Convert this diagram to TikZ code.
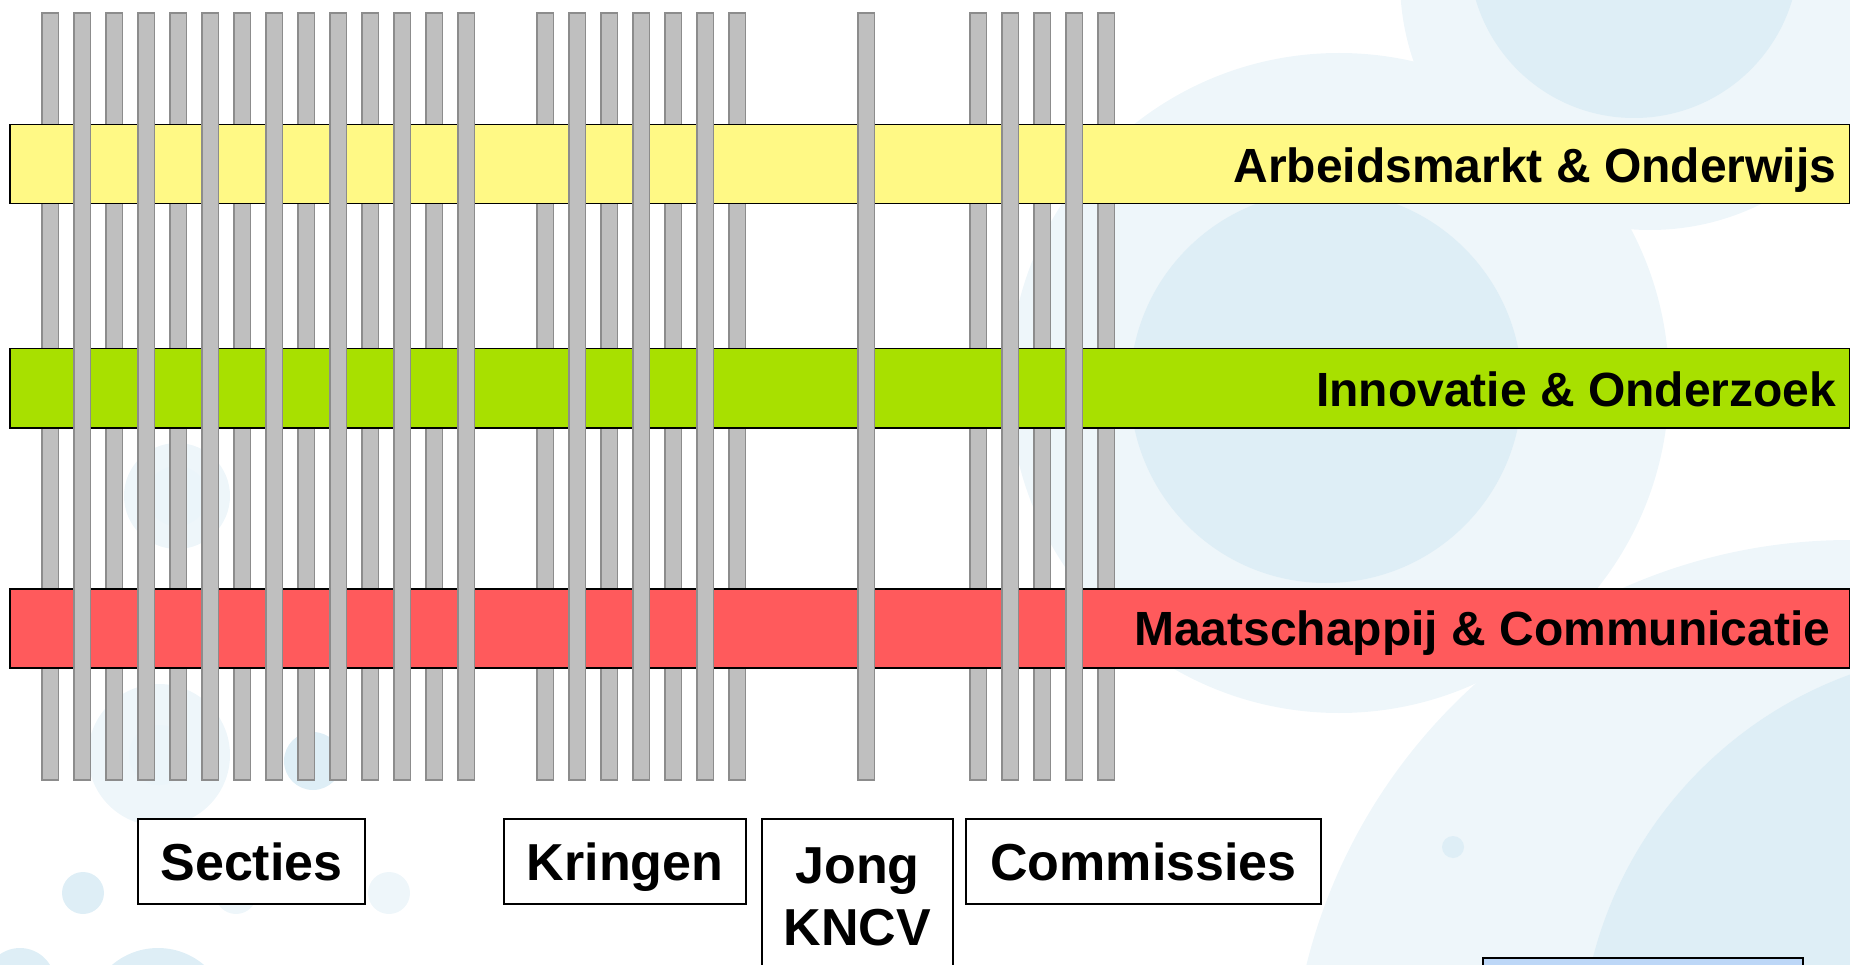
\documentclass[tikz,border=0pt]{standalone}
\usepackage{fontspec}
\setmainfont{Liberation Sans}
\usepackage{tikz}

\definecolor{barfill}{HTML}{BFBFBF}
\definecolor{barline}{HTML}{8C8C8C}
\definecolor{aoyellow}{HTML}{FFF985}
\definecolor{iogreen}{HTML}{A8E000}
\definecolor{mcred}{HTML}{FF5A5C}
\definecolor{bgdark}{HTML}{DEEEF6}
\definecolor{bglight}{HTML}{EEF6FA}
\definecolor{boxblue}{HTML}{BDD7F7}

\begin{document}
\begin{tikzpicture}[x=1pt,y=-1pt,
  bar/.style={fill=barfill,draw=barline,line width=1.5pt},
  band/.style={draw=black,line width=1.5pt,minimum width=1840pt,minimum height=79pt,
    anchor=north west,inner sep=0pt},
  bandlabel/.style={anchor=base east,inner sep=0pt,font=\fontsize{48}{50}\selectfont\bfseries},
  groupbox/.style={draw=black,fill=white,line width=1.8pt,inner sep=0pt,text depth=0pt,
    minimum height=85pt,font=\fontsize{52}{62}\selectfont\bfseries,align=center}]
\clip (0,0) rectangle (1850,965);

% background circles
\fill[bglight] (1650,-20) circle (250);
\fill[bgdark] (1634,-47) circle (165);
\fill[bglight] (1339,383) circle (330);
\fill[bgdark] (1326,387) circle (196);
\fill[bglight] (1850,1100) circle (560);
\fill[bgdark] (1990,1060) circle (410);
\fill[bglight] (177,496) circle (53);
\fill[bgdark!60] (177,496) circle (30);
\fill[bglight] (159,755) circle (71);
\fill[bgdark!60] (159,755) circle (30);
\fill[bgdark] (313,761) circle (29);
\fill[bgdark] (83,893) circle (21);
\fill[bglight] (236,893) circle (21);
\fill[bglight] (389,893) circle (21);
\fill[bgdark] (20,983) circle (35);
\fill[bgdark] (158,1019) circle (71);
\fill[bgdark] (1453,847) circle (11);

% bars behind the bands
\foreach \i in {0,2,...,12}
  \draw[bar] (50+32*\i-8.25,13) rectangle ++(16.5,767);
\foreach \i in {0,2,4,6}
  \draw[bar] (545+32*\i-8.25,13) rectangle ++(16.5,767);
\foreach \i in {0,2,4}
  \draw[bar] (978+32*\i-8.25,13) rectangle ++(16.5,767);

% bands
\node[band,fill=aoyellow] (ao) at (9,124) {};
\node[band,fill=iogreen] (io) at (9,348) {};
\node[band,fill=mcred] (mc) at (9,588) {};
\node[bandlabel] (aolabel) at ([xshift=-14pt,yshift=22pt]ao.south east) {Arbeidsmarkt \& Onderwijs};
\node[bandlabel] (iolabel) at ([xshift=-14pt,yshift=22pt]io.south east) {Innovatie \& Onderzoek};
\node[bandlabel] (mclabel) at ([xshift=-20pt,yshift=23pt]mc.south east) {Maatschappij \& Communicatie};

% bars in front of the bands
\foreach \i in {1,3,...,13}
  \draw[bar] (50+32*\i-8.25,13) rectangle ++(16.5,767);
\foreach \i in {1,3,5}
  \draw[bar] (545+32*\i-8.25,13) rectangle ++(16.5,767);
\draw[bar] (866-8.25,13) rectangle ++(16.5,767);
\foreach \i in {1,3}
  \draw[bar] (978+32*\i-8.25,13) rectangle ++(16.5,767);

% groups
\node[groupbox,minimum width=227pt] (secties) at (251.5,861.5) {Secties};
\node[groupbox,minimum width=242pt] (kringen) at (625,861.5) {Kringen};
\node[groupbox,minimum width=191pt,minimum height=170pt] (jong) at (857.5,904) {};
\node[font=\fontsize{52}{62}\selectfont\bfseries,align=center,inner sep=0pt] (jonglabel)
  at (857.5,897) {Jong\\KNCV};
\node[groupbox,minimum width=355pt] (commissies) at (1143.5,861.5) {Commissies};
\node[draw=black,fill=boxblue,line width=1.5pt,minimum width=320pt,minimum height=40pt,
  anchor=north west,inner sep=0pt] (nextbox) at (1482,957) {};
\end{tikzpicture}
\end{document}
